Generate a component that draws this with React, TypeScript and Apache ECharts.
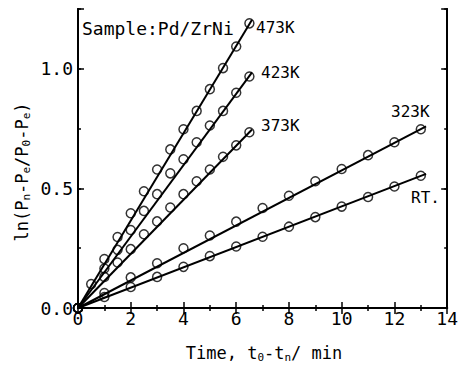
import React, { useEffect, useRef } from "react";
import * as echarts from "echarts";

// ---- data ----
const t473 = [0, 0.5, 1, 1.5, 2, 2.5, 3, 3.5, 4, 4.5, 5, 5.5, 6, 6.5];
const v473 = [0, 0.10, 0.205, 0.297, 0.396, 0.488, 0.579, 0.663, 0.747, 0.824, 0.915, 1.003, 1.093, 1.19];
const t423 = [0, 1, 1.5, 2, 2.5, 3, 3.5, 4, 4.5, 5, 5.5, 6, 6.5];
const v423 = [0, 0.165, 0.243, 0.326, 0.406, 0.476, 0.563, 0.622, 0.693, 0.763, 0.824, 0.9, 0.968];
const t373 = [0, 1, 1.5, 2, 2.5, 3, 3.5, 4, 4.5, 5, 5.5, 6, 6.5];
const v373 = [0, 0.13, 0.19, 0.246, 0.308, 0.362, 0.42, 0.476, 0.53, 0.579, 0.632, 0.68, 0.735];
const tInt = [0, 1, 2, 3, 4, 5, 6, 7, 8, 9, 10, 11, 12, 13];
const v323 = [0, 0.063, 0.128, 0.187, 0.25, 0.303, 0.361, 0.418, 0.469, 0.53, 0.581, 0.639, 0.693, 0.747];
const vRT = [0, 0.046, 0.088, 0.13, 0.172, 0.217, 0.257, 0.298, 0.34, 0.38, 0.424, 0.464, 0.508, 0.553];

// fitted straight lines: [start, end] as [t, value]
const fit473 = [[0, 0], [6.6, 1.205]];
const fit423 = [[0, 0], [6.6, 0.985]];
const fit373 = [[0, 0], [6.6, 0.746]];
const fit323 = [[0, 0], [13.2, 0.759]];
const fitRT = [[0, 0], [13.2, 0.561]];

const seriesNames = ["473K", "423K", "373K", "323K", "RT."];
const xTicks = [0, 14, 2];
const yTicks = [0, 1.25, 0.5];

const FONT = "DejaVu Sans Mono";

function pairs(t: number[], v: number[]) {
  return t.map((x, i) => [x, v[i]]);
}

export default function App() {
  const ref = useRef<HTMLDivElement>(null);
  useEffect(() => {
    if (!ref.current) return;
    const chart = echarts.init(ref.current, null, { renderer: "svg" });
    const axisLine = { show: true, lineStyle: { color: "#000", width: 2 } };
    const majorTick = { show: true, inside: true, length: 6, lineStyle: { color: "#000", width: 1.5 } };
    const minorTickX = { show: true, splitNumber: 2, length: 3, lineStyle: { color: "#000", width: 1.5 } };
    const baseX = {
      type: "value",
      min: xTicks[0],
      max: xTicks[1],
      interval: xTicks[2],
      axisLine,
      axisTick: majorTick,
      minorTick: minorTickX,
      splitLine: { show: false },
    };
    const baseY = {
      type: "value",
      min: yTicks[0],
      max: yTicks[1],
      splitLine: { show: false },
      axisLine,
    };
    const scatterStyle = { color: "rgba(0,0,0,0)", borderColor: "#000", borderWidth: 1.5 };
    const mkScatter = (data: number[][]) => ({
      type: "scatter",
      data,
      symbol: "circle",
      symbolSize: 9,
      itemStyle: scatterStyle,
      z: 3,
    });
    const mkFit = (name: string, data: number[][], offset: number[], distance: number) => ({
      type: "line",
      name,
      data,
      symbol: "none",
      lineStyle: { color: "#000", width: 2 },
      z: 2,
      endLabel: {
        show: true,
        formatter: name,
        color: "#000",
        fontFamily: FONT,
        fontSize: 16,
        distance,
        offset,
      },
    });

    chart.setOption({
      animation: false,
      grid: { left: 78, right: 12, top: 9, bottom: 59, containLabel: false },
      xAxis: [
        {
          ...baseX,
          position: "bottom",
          axisLabel: { color: "#000", fontFamily: FONT, fontSize: 18, margin: 1 },
        },
        { ...baseX, position: "top", axisLabel: { show: false } },
      ],
      yAxis: [
        {
          ...baseY,
          position: "left",
          interval: yTicks[2],
          axisTick: majorTick,
          axisLabel: {
            color: "#000",
            fontFamily: FONT,
            fontSize: 18,
            margin: 5,
            formatter: (v: number) => (v > 1.2 ? "" : v.toFixed(1)),
          },
        },
        {
          ...baseY,
          position: "left",
          interval: yTicks[2] / 2,
          axisTick: { ...majorTick, length: 3 },
          axisLabel: { show: false },
        },
        {
          ...baseY,
          position: "right",
          interval: yTicks[2],
          axisTick: majorTick,
          axisLabel: { show: false },
        },
        {
          ...baseY,
          position: "right",
          interval: yTicks[2] / 2,
          axisTick: { ...majorTick, length: 3 },
          axisLabel: { show: false },
        },
      ],
      graphic: [
        {
          type: "text",
          left: 82,
          top: 19,
          style: { text: "Sample:Pd/ZrNi", font: `18px "${FONT}"`, fill: "#000" },
        },
        {
          type: "text",
          x: 264,
          y: 353,
          style: {
            text: "{a|Time, t}{s|0}{a|-t}{s|n}{a|/ min}",
            align: "center",
            verticalAlign: "middle",
            rich: {
              a: { fontFamily: FONT, fontSize: 17, fill: "#000", color: "#000" },
              s: { fontFamily: FONT, fontSize: 11, fill: "#000", color: "#000", padding: [9, 0, 0, 0] },
            },
          },
        },
        {
          type: "text",
          x: 22,
          y: 172,
          rotation: Math.PI / 2,
          style: {
            text: "{a|ln(P}{s|n}{a|-P}{s|e}{a|/P}{s|0}{a|-P}{s|e}{a|)}",
            align: "center",
            verticalAlign: "middle",
            rich: {
              a: { fontFamily: FONT, fontSize: 17, fill: "#000", color: "#000" },
              s: { fontFamily: FONT, fontSize: 11, fill: "#000", color: "#000", padding: [9, 0, 0, 0] },
            },
          },
        },
      ],
      series: [
        mkScatter(pairs(t473, v473)),
        mkScatter(pairs(t423, v423)),
        mkScatter(pairs(t373, v373)),
        mkScatter(pairs(tInt, v323)),
        mkScatter(pairs(tInt, vRT)),
        mkFit(seriesNames[0], fit473, [0, 8], 4),
        mkFit(seriesNames[1], fit423, [0, 0], 9),
        mkFit(seriesNames[2], fit373, [0, -4], 9),
        mkFit(seriesNames[3], fit323, [-40, -15], 5),
        mkFit(seriesNames[4], fitRT, [-20, 24], 5),
      ],
    });
    return () => chart.dispose();
  }, []);
  return (
    <div
      ref={ref}
      style={{ position: "fixed", left: 0, top: 0, width: 461, height: 367, background: "#fff" }}
    />
  );
}
